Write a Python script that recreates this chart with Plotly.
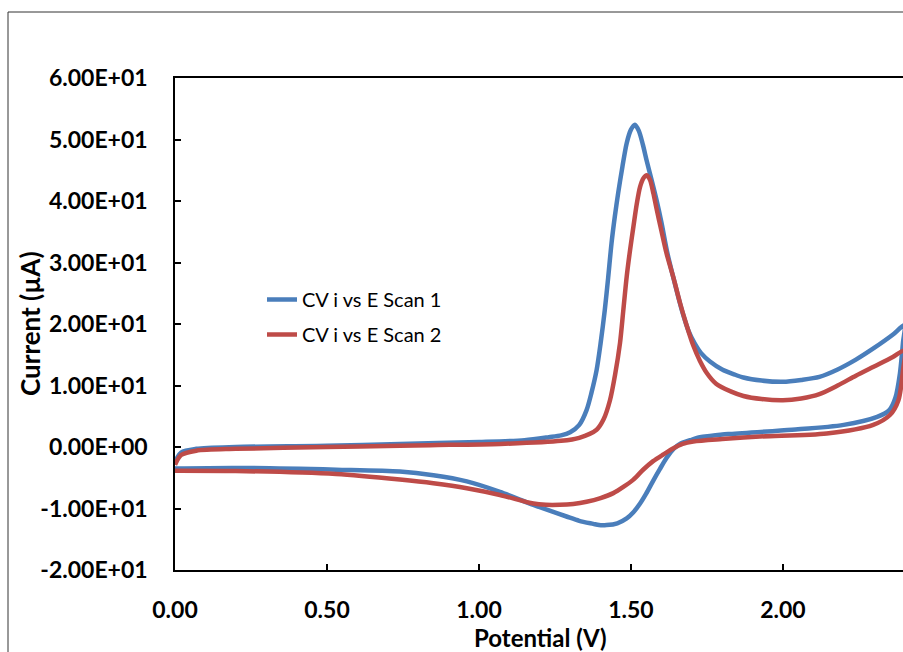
import plotly.graph_objects as go

# ---- data (Potential in V, Current in µA) ----
scan1_E = [0.0, 0.02, 0.07, 0.2, 0.5, 0.74, 1.0, 1.15, 1.23, 1.27, 1.30, 1.33, 1.354, 1.37,
           1.387, 1.40, 1.414, 1.425, 1.436, 1.447, 1.458, 1.472, 1.486, 1.50, 1.513, 1.526,
           1.539, 1.552, 1.568, 1.584, 1.60, 1.62, 1.65, 1.67, 1.69, 1.71, 1.73, 1.76, 1.80,
           1.84, 1.87, 1.93, 2.0, 2.06, 2.12, 2.18, 2.24, 2.30, 2.36, 2.40,
           2.395, 2.385, 2.37, 2.35, 2.31, 2.2, 2.03, 1.82, 1.76, 1.727, 1.695, 1.661, 1.64,
           1.617, 1.595, 1.573, 1.55, 1.53, 1.508, 1.486, 1.455, 1.42, 1.395, 1.376, 1.33,
           1.288, 1.179, 1.069, 0.96, 0.85, 0.74, 0.53, 0.2, 0.0]
scan1_I = [-2.4, -0.9, -0.3, 0.0, 0.2, 0.5, 0.8, 1.1, 1.6, 1.9, 2.4, 3.6, 6.0, 8.8,
           12.5, 16.8, 22.3, 27.5, 33.1, 37.5, 41.3, 45.6, 49.4, 51.6, 52.4, 51.4,
           49.2, 46.5, 43.4, 40.2, 36.6, 31.5, 25.5, 21.8, 18.8, 16.8, 15.3, 13.9, 12.6,
           11.8, 11.3, 10.8, 10.6, 10.9, 11.4, 12.6, 14.2, 16.1, 18.2, 19.8,
           17.0, 12.0, 8.0, 6.0, 4.9, 3.6, 2.8, 2.1, 1.8, 1.6, 1.1, 0.5, -0.3,
           -1.8, -3.6, -5.5, -7.6, -9.2, -10.6, -11.6, -12.4, -12.7, -12.7, -12.5, -12.0,
           -11.3, -9.4, -7.3, -5.6, -4.6, -4.0, -3.7, -3.4, -3.5]

scan2_E = [0.0, 0.02, 0.07, 0.2, 0.5, 0.74, 0.84, 1.07, 1.27, 1.33, 1.387, 1.41, 1.431, 1.448,
           1.464, 1.475, 1.486, 1.497, 1.508, 1.519, 1.53, 1.541, 1.552, 1.563, 1.574, 1.584,
           1.60, 1.617, 1.64, 1.661, 1.683, 1.705, 1.727, 1.75, 1.78, 1.83, 1.87, 1.93, 2.0,
           2.06, 2.12, 2.18, 2.24, 2.30, 2.36, 2.40,
           2.395, 2.38, 2.352, 2.297, 2.144, 1.924, 1.80, 1.705, 1.67, 1.64, 1.607, 1.573,
           1.54, 1.508, 1.475, 1.442, 1.40, 1.354, 1.31, 1.266, 1.22, 1.179, 1.069, 0.96,
           0.85, 0.74, 0.53, 0.2, 0.0]
scan2_I = [-2.9, -1.3, -0.6, -0.3, 0.0, 0.2, 0.3, 0.5, 1.0, 1.5, 2.8, 4.5, 7.6, 11.8,
           16.9, 22.3, 27.7, 32.0, 35.8, 39.5, 42.3, 43.7, 44.2, 43.4, 41.2, 38.8,
           35.2, 31.5, 27.5, 23.5, 19.8, 16.5, 14.0, 12.0, 10.3, 9.0, 8.3, 7.8, 7.6,
           7.9, 8.6, 10.0, 11.6, 13.1, 14.6, 15.7,
           12.5, 7.6, 5.2, 3.6, 2.2, 1.7, 1.3, 0.9, 0.5, -0.2, -1.2, -2.3,
           -3.7, -5.3, -6.5, -7.5, -8.3, -8.9, -9.25, -9.4, -9.4, -9.2, -7.8, -6.7,
           -5.9, -5.3, -4.4, -3.9, -3.85]

series_names = ["CV i vs E Scan 1", "CV i vs E Scan 2"]
series_colors = ["#4A7EBB", "#BE4B48"]

y_ticks = [-20, -10, 0, 10, 20, 30, 40, 50, 60]
y_ticktext = ["-2.00E+01", "-1.00E+01", "0.00E+00", "1.00E+01", "2.00E+01",
              "3.00E+01", "4.00E+01", "5.00E+01", "6.00E+01"]
x_ticks = [0.0, 0.5, 1.0, 1.5, 2.0]
x_ticktext = ["0.00", "0.50", "1.00", "1.50", "2.00"]

W, H = 903, 652
L, R, T, B = 175, 0, 78, 82
pw, ph = W - L - R, H - T - B

def px(p):
    return (p - L) / pw

def py(q):
    return (H - B - q) / ph

fig = go.Figure()
for i, (E, I, name, col) in enumerate([(scan1_E, scan1_I, series_names[0], series_colors[0]),
                                       (scan2_E, scan2_I, series_names[1], series_colors[1])]):
    fig.add_trace(go.Scatter(x=E, y=I, mode="lines", name=name, legendgroup=f"g{i}",
                             line=dict(color=col, width=4.5, shape="spline", smoothing=0.8)))

tickfont = dict(family="Lato", size=23, color="black", weight="bold")

fig.update_layout(
    width=W, height=H,
    margin=dict(l=L, r=R, t=T, b=B),
    paper_bgcolor="white", plot_bgcolor="white",
    showlegend=True,
    legend=dict(x=px(262), y=py(280), xanchor="left", yanchor="top",
                bgcolor="rgba(0,0,0,0)", font=dict(family="Lato", size=20, color="black"),
                traceorder="grouped", tracegroupgap=6, itemwidth=30),
    xaxis=dict(range=[0, 2.395], tickvals=x_ticks, ticktext=x_ticktext,
               showline=True, linecolor="black", linewidth=1.5, mirror=True,
               ticks="inside", ticklen=6, tickcolor="black", tickwidth=1.5,
               showgrid=False, zeroline=False, tickfont=tickfont, ticklabelstandoff=19),
    yaxis=dict(range=[-20, 60], tickvals=y_ticks, ticktext=y_ticktext,
               showline=True, linecolor="black", linewidth=1.5,
               ticks="inside", ticklen=6, tickcolor="black", tickwidth=1.5,
               showgrid=False, zeroline=False, tickfont=tickfont, ticklabelstandoff=21),
)

# axis titles
fig.add_annotation(x=px(540), y=py(637), xref="paper", yref="paper", showarrow=False,
                   xanchor="center", yanchor="middle",
                   text="Potential (V)", font=dict(family="Lato", size=24, color="black", weight="bold"))
fig.add_annotation(x=px(30), y=py(324), xref="paper", yref="paper", showarrow=False,
                   xanchor="center", yanchor="middle",
                   text="Current (µA)", textangle=-90,
                   font=dict(family="Lato", size=26, color="black", weight="bold"))

# outer chart-area border (cut off at right and bottom)
fig.add_shape(type="line", xref="paper", yref="paper", x0=px(8), x1=px(8), y0=py(12), y1=py(700),
              line=dict(color="#333333", width=1))
fig.add_shape(type="line", xref="paper", yref="paper", x0=px(8), x1=px(950), y0=py(12), y1=py(12),
              line=dict(color="#333333", width=1))

fig.write_html("out.html")
